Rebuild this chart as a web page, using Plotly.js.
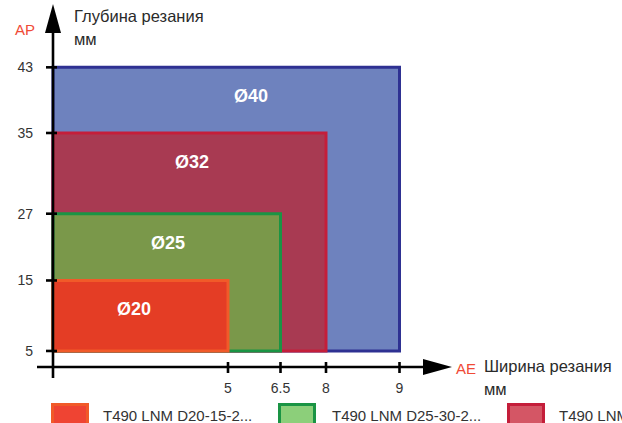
<!DOCTYPE html>
<html>
<head>
<meta charset="utf-8">
<script src="https://cdn.plot.ly/plotly-3.0.1.min.js"></script>
<style>html,body{margin:0;padding:0;background:#fff;}#chart{width:622px;height:423px;}</style>
</head>
<body>
<div id="chart"></div>
<script>
// ---- data ----
const aeTicks = [5, 6.5, 8, 9];              // AE tick labels (мм)
const apTicks = [5, 15, 27, 35, 43];         // AP tick labels (мм)
const diameters = ['Ø40', 'Ø32', 'Ø25', 'Ø20'];
const aeMax = [9, 8, 6.5, 5];                // ширина резания per cutter
const apMax = [43, 35, 27, 15];              // глубина резания per cutter
const apMin = [5, 5, 5, 5];
const legendLabels = ['T490 LNM D20-15-2...', 'T490 LNM D25-30-2...', 'T490 LNM D32-35-2...'];

// ---- schematic (non-linear) axis slots for the tick labels ----
const aeSlots = [5, 6.5, 7.8, 9.9];
const apSlots = [2.29, 12.36, 21.9, 33.43, 42.81];
const xs = v => v === 0 ? 0 : aeSlots[aeTicks.indexOf(v)];
const ys = v => apSlots[apTicks.indexOf(v)];

// ---- styles ----
const FONT = 'Liberation Sans, Arial, sans-serif';
const fillColors = ['#6e82be', '#a83a52', '#7a984a', '#e43d25'];
const lineColors = ['#2e3192', '#c41e3a', '#1a9444', '#f15a29'];
const legendFill = ['#ef4433', '#8ccf7a', '#d45665'];
const legendLine = ['#f15a29', '#1a9444', '#c41e3a'];
const labelShift = [25, 2, 1, -7];

// layout helpers (pixel -> axis units; 35 px per x unit, 7 px per y unit)
const pX = p => (p - 53) / 35;
const pY = p => (367 - p) / 7;

const traces = diameters.map((d, i) => {
  const x0 = 0, x1 = xs(aeMax[i]);
  const y0 = ys(apMin[i]), y1 = ys(apMax[i]);
  return {
    type: 'scatter', mode: 'lines', name: d,
    x: [x0, x1, x1, x0, x0], y: [y0, y0, y1, y1, y0],
    fill: 'toself', fillcolor: fillColors[i],
    line: {color: lineColors[i], width: 3},
    hoverinfo: 'skip'
  };
});

const shapes = [];
// axes
shapes.push({type: 'line', x0: pX(37), x1: pX(425), y0: 0, y1: 0, line: {color: '#000', width: 2.6}});
shapes.push({type: 'line', x0: 0, x1: 0, y0: pY(378), y1: pY(31), line: {color: '#000', width: 2.6}});
shapes.push({type: 'path', path: `M ${pX(423)},${pY(359)} L ${pX(452)},${pY(367)} L ${pX(423)},${pY(375)} Z`,
  fillcolor: '#000', line: {width: 0}});
shapes.push({type: 'path', path: `M ${pX(45)},${pY(33)} L ${pX(53)},${pY(4)} L ${pX(61)},${pY(33)} Z`,
  fillcolor: '#000', line: {width: 0}});
// tick marks
aeSlots.forEach(s => shapes.push({type: 'line', x0: s, x1: s, y0: pY(362), y1: pY(373), line: {color: '#000', width: 2.6}}));
apSlots.forEach(s => shapes.push({type: 'line', x0: pX(46), x1: pX(57), y0: s, y1: s, line: {color: '#000', width: 2.6}}));
// legend swatches
const legX = [52.5, 279.5, 508.5];
legendLabels.forEach((t, i) => shapes.push({type: 'rect', x0: pX(legX[i]), x1: pX(legX[i] + 35), y0: pY(404.5), y1: pY(442),
  fillcolor: legendFill[i], line: {color: legendLine[i], width: 3}}));

const annotations = [];
diameters.forEach((d, i) => annotations.push({
  x: xs(aeMax[i]) / 2, y: ys(apMax[i]), yshift: -29, xshift: labelShift[i], text: d, showarrow: false,
  xanchor: 'center', yanchor: 'middle', font: {family: FONT, size: 18, color: '#fff', weight: 700}
}));
const txt = (text, x, y, opts) => Object.assign({x: pX(x), y: pY(y), text, showarrow: false, xanchor: 'left', yanchor: 'middle',
  borderpad: 0, font: {family: FONT, size: 16.5, color: '#2a2a2a'}}, opts || {});
annotations.push(txt('Глубина резания', 73, 16));
annotations.push(txt('мм', 73, 39));
annotations.push(txt('Ширина резания', 483, 366));
annotations.push(txt('мм', 483, 389));
annotations.push(txt('AP', 25, 29, {xanchor: 'center', font: {family: FONT, size: 15, color: '#f04a36'}}));
annotations.push(txt('AE', 466, 368, {xanchor: 'center', font: {family: FONT, size: 15, color: '#f04a36'}}));
const legTX = [102, 331, 558];
legendLabels.forEach((t, i) => annotations.push(txt(t, legTX[i], 415, {font: {family: FONT, size: 15, color: '#333'}})));

const layout = {
  width: 622, height: 423,
  margin: {l: 0, r: 0, t: 0, b: 0, pad: 0},
  paper_bgcolor: '#fff', plot_bgcolor: '#fff',
  showlegend: false,
  xaxis: {range: [pX(0), pX(622)], showgrid: false, zeroline: false, showline: false, ticks: '',
    tickvals: aeSlots, ticktext: aeTicks.map(String), anchor: 'free', position: (423 - 367) / 423,
    tickfont: {family: FONT, size: 14, color: '#333'}, ticklabelstandoff: 11, fixedrange: true},
  yaxis: {range: [pY(423), pY(0)], showgrid: false, zeroline: false, showline: false, ticks: '',
    tickvals: apSlots, ticktext: apTicks.map(String), anchor: 'free', position: 53 / 622,
    tickfont: {family: FONT, size: 14, color: '#333'}, ticklabelstandoff: 20, fixedrange: true},
  shapes, annotations
};

Plotly.newPlot('chart', traces, layout, {displayModeBar: false, staticPlot: true});
</script>
</body>
</html>
